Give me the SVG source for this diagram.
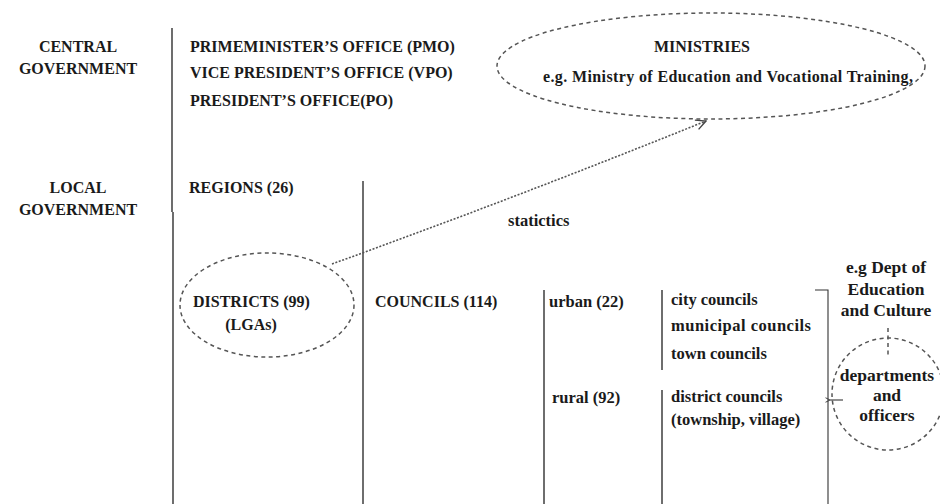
<svg xmlns="http://www.w3.org/2000/svg" width="940" height="504" viewBox="0 0 940 504">
<defs>
<style>
text{font-family:"Liberation Serif","Times New Roman",serif;font-weight:bold;font-size:16px;fill:#1a1a1a}
.c{text-anchor:middle}
.lc{font-size:16.5px}
.rc{font-size:17.5px}
.rule{stroke:#4a4a4a;stroke-width:1.6;fill:none}
.thin{stroke:#333;stroke-width:1.1;fill:none}
.dash{stroke:#555;stroke-width:1.5;fill:none;stroke-dasharray:4 3.5}
.dot{stroke:#555;stroke-width:1.6;fill:none;stroke-dasharray:2 1.6}
</style>
<marker id="open" viewBox="0 0 12 12" refX="11" refY="6" markerWidth="12" markerHeight="12" markerUnits="userSpaceOnUse" orient="auto">
<path d="M1,1 L11,6 L1,11" fill="none" stroke="#444" stroke-width="1.4"/>
</marker>
<marker id="small" viewBox="0 0 8 8" refX="1" refY="4" markerWidth="6" markerHeight="6" markerUnits="userSpaceOnUse" orient="auto">
<path d="M7,1 L1,4 L7,7" fill="none" stroke="#333" stroke-width="1.2"/>
</marker>
</defs>
<rect width="940" height="504" fill="#fff"/>

<g id="dividers">
<path class="rule" d="M172,28 V212 M173,212 V504"/>
<path class="rule" d="M363,181 V504"/>
<path class="rule" d="M544,290 V504"/>
<path class="rule" d="M662,290 V370"/>
<path class="rule" d="M662,390 V504"/>
<path class="thin" d="M815,290 H828 V504"/>
</g>

<g id="central-government">
<text class="c" x="78" y="52">CENTRAL</text>
<text class="c" x="78" y="74">GOVERNMENT</text>
</g>
<g id="pmo"><text x="190" y="52">PRIMEMINISTER’S OFFICE (PMO)</text></g>
<g id="vpo"><text x="190" y="78">VICE PRESIDENT’S OFFICE (VPO)</text></g>
<g id="po"><text x="190" y="106">PRESIDENT’S OFFICE(PO)</text></g>

<g id="ministries">
<ellipse class="dash" cx="711" cy="66" rx="214" ry="53"/>
<text class="c" x="702" y="52">MINISTRIES</text>
<text x="543" y="82" textLength="370" lengthAdjust="spacing">e.g. Ministry of Education and Vocational Training,</text>
</g>

<g id="local-government">
<text class="c" x="78" y="193">LOCAL</text>
<text class="c" x="78" y="215">GOVERNMENT</text>
</g>
<g id="regions"><text x="189" y="193">REGIONS (26)</text></g>

<g id="districts">
<ellipse class="dash" cx="267" cy="305" rx="87" ry="52"/>
<text x="193" y="307">DISTRICTS (99)</text>
<text class="c" x="251" y="330">(LGAs)</text>
</g>

<g id="councils"><text x="375" y="307">COUNCILS (114)</text></g>
<g id="urban"><text class="lc" x="549" y="307">urban (22)</text></g>
<g id="rural"><text class="lc" x="552" y="403">rural (92)</text></g>

<g id="urban-councils">
<text class="lc" x="671" y="305">city councils</text>
<text class="lc" x="671" y="331" textLength="140" lengthAdjust="spacing">municipal councils</text>
<text class="lc" x="671" y="359">town councils</text>
</g>
<g id="rural-councils">
<text class="lc" x="671" y="402">district councils</text>
<text class="lc" x="671" y="425">(township, village)</text>
</g>

<g id="dept-example">
<text class="c rc" x="886" y="273">e.g Dept of</text>
<text class="c rc" x="886" y="295">Education</text>
<text class="c rc" x="886" y="316">and Culture</text>
</g>

<g id="departments">
<ellipse class="dash" cx="888" cy="394" rx="56" ry="56"/>
<text class="c rc" x="887" y="381">departments</text>
<text class="c rc" x="887" y="401">and</text>
<text class="c rc" x="887" y="421">officers</text>
</g>

<g id="connectors">
<path class="dot" d="M332,264 Q520,196 706,121" marker-end="url(#open)"/>
<text id="statistics-label" class="lc" x="508" y="226">statictics</text>
<path class="dash" d="M888,328 V358"/>
<path class="thin" d="M843,400 H830" marker-end="url(#small)"/>
</g>
</svg>
